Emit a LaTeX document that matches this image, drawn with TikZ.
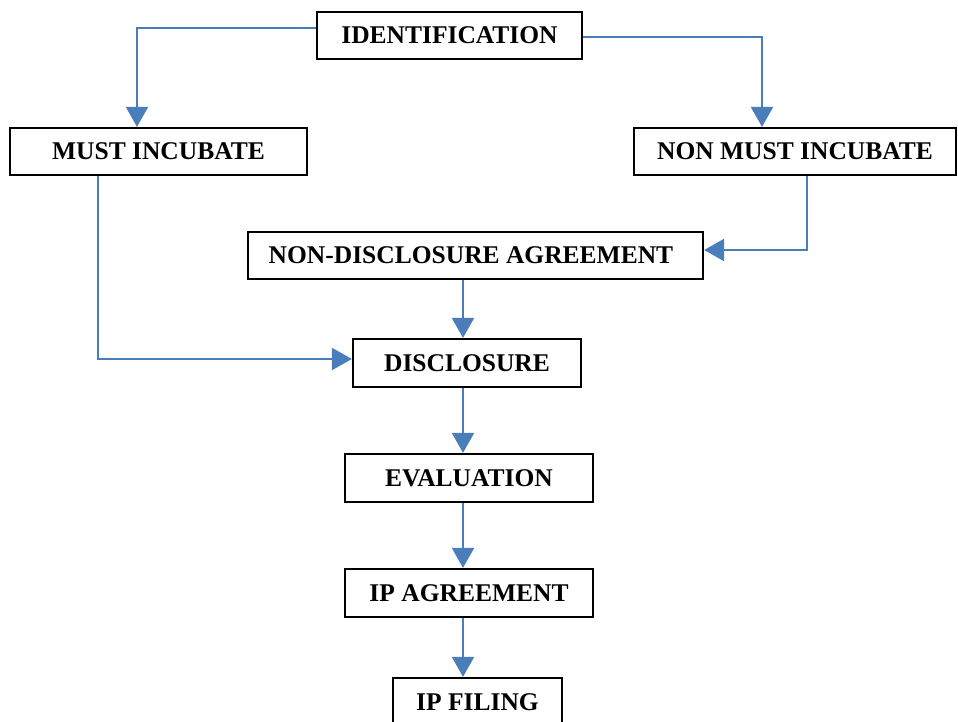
\documentclass[tikz,border=0pt]{standalone}
\usepackage{fontspec}
\setmainfont{Liberation Serif}
\usetikzlibrary{arrows.meta}
\definecolor{conn}{RGB}{74,126,187}
\begin{document}
\begin{tikzpicture}[x=1pt,y=-1pt,
  box/.style={draw=black,line width=2.2pt,rectangle,inner sep=0pt,minimum height=47pt,
    font=\fontsize{25.5}{30}\selectfont\bfseries},
  arr/.style={draw=conn,line width=2pt,-{Triangle[length=20pt,width=22pt]}}]
\useasboundingbox (0,0) rectangle (958,721);
\clip (0,0) rectangle (958,721);
\fill[white] (0,0) rectangle (958,721);
\node[box,minimum width=265pt] (id) at (449.5,35.5) {IDENTIFICATION};
\node[box,minimum width=297pt] (mi) at (158.5,151.5) {MUST INCUBATE};
\node[box,minimum width=322pt] (nmi) at (795,151.5) {NON MUST INCUBATE};
\node[box,minimum width=455pt] (nda) at (475.5,255.5) {\hspace*{-9pt}NON-DISCLOSURE AGREEMENT};
\node[box,minimum width=228pt,minimum height=48pt] (dis) at (467,363) {DISCLOSURE};
\node[box,minimum width=248pt,minimum height=48pt] (eva) at (469,478) {EVALUATION};
\node[box,minimum width=248pt,minimum height=48pt] (ipa) at (469,593) {IP AGREEMENT};
\node[box,minimum width=169pt,minimum height=48pt] (ipf) at (477.5,702) {IP FILING};
\draw[arr] ([yshift=7.5pt]id.west) -| ([xshift=-21.5pt]mi.north);
\draw[arr] ([yshift=-1.5pt]id.east) -| ([xshift=-33pt]nmi.north);
\draw[arr] ([xshift=12pt]nmi.south) |- ([yshift=5.5pt]nda.east);
\draw[arr] ([xshift=-60.5pt]mi.south) |- ([yshift=4pt]dis.west);
\draw[arr] ([xshift=-4pt]dis.north |- nda.south) -- ([xshift=-4pt]dis.north);
\draw[arr] ([xshift=-4pt]dis.south) -- ([xshift=-6pt]eva.north);
\draw[arr] ([xshift=-6pt]eva.south) -- ([xshift=-6pt]ipa.north);
\draw[arr] ([xshift=-6pt]ipa.south) -- ([xshift=-6pt]ipa.south |- ipf.north);
\end{tikzpicture}
\end{document}
